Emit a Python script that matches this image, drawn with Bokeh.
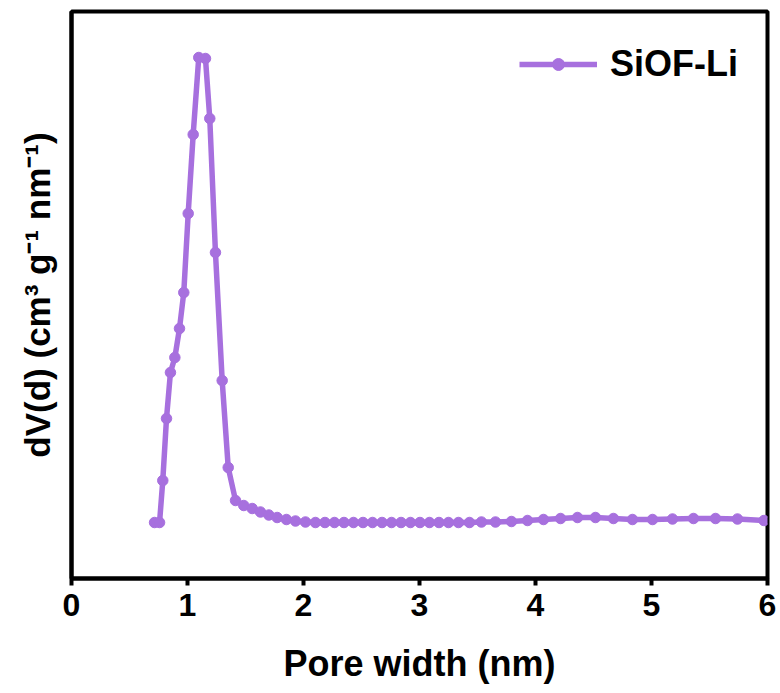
from bokeh.plotting import figure
from bokeh.models import Range1d, FixedTicker, Legend, LegendItem
from bokeh.embed import file_html
from bokeh.resources import INLINE

# Pore width (nm)
pore_width = [0.716, 0.759, 0.787, 0.819, 0.853, 0.891, 0.931, 0.968, 1.006, 1.049,
              1.097, 1.155, 1.192, 1.241, 1.299, 1.351, 1.414, 1.485, 1.558, 1.629,
              1.701, 1.773, 1.853, 1.931, 2.017, 2.103, 2.185, 2.267, 2.349, 2.431,
              2.513, 2.595, 2.677, 2.759, 2.841, 2.922, 3.004, 3.086, 3.168, 3.250,
              3.336, 3.431, 3.534, 3.655, 3.793, 3.931, 4.069, 4.216, 4.362, 4.517,
              4.672, 4.836, 5.009, 5.181, 5.362, 5.552, 5.741, 5.970]
# dV(d) (arbitrary units)
dv = [0.112, 0.112, 0.196, 0.320, 0.412, 0.442, 0.500, 0.572, 0.730, 0.888,
      1.042, 1.040, 0.920, 0.652, 0.396, 0.222, 0.156, 0.146, 0.140, 0.133,
      0.127, 0.122, 0.118, 0.115, 0.113, 0.112, 0.112, 0.112, 0.112, 0.112,
      0.112, 0.112, 0.112, 0.112, 0.112, 0.112, 0.112, 0.112, 0.112, 0.112,
      0.112, 0.112, 0.113, 0.113, 0.114, 0.116, 0.118, 0.120, 0.122, 0.122,
      0.120, 0.118, 0.118, 0.119, 0.120, 0.120, 0.119, 0.116]
x_ticks = [0, 1, 2, 3, 4, 5, 6]
series_name = "SiOF-Li"

COLOR = "#A770DE"
FONT = "Liberation Sans"

p = figure(width=780, height=693, output_backend="svg", toolbar_location=None,
           x_range=Range1d(0, 6), y_range=Range1d(0, 1.134),
           min_border_left=71, min_border_right=13, min_border_top=11,
           min_border_bottom=115)
p.background_fill_color = "white"
p.border_fill_color = "white"
p.outline_line_color = "black"
p.outline_line_width = 4
p.xgrid.visible = False
p.ygrid.visible = False

line_r = p.line(pore_width, dv, line_color=COLOR, line_width=5.5)
pts_r = p.scatter(pore_width, dv, size=10.5, fill_color=COLOR, line_color=COLOR)

xa = p.xaxis[0]
xa.ticker = FixedTicker(ticks=x_ticks)
xa.minor_tick_line_color = None
xa.axis_line_width = 4
xa.major_tick_line_width = 4
xa.major_tick_out = 7
xa.major_tick_in = 0
xa.major_label_text_font = FONT
xa.major_label_text_font_style = "bold"
xa.major_label_text_font_size = "32px"
xa.major_label_text_color = "black"
xa.major_label_standoff = 8
xa.axis_label = "Pore width (nm)"
xa.axis_label_text_font = FONT
xa.axis_label_text_font_style = "bold"
xa.axis_label_text_font_size = "36px"
xa.axis_label_text_color = "black"
xa.axis_label_standoff = 24

ya = p.yaxis[0]
ya.ticker = FixedTicker(ticks=[])
ya.minor_tick_line_color = None
ya.major_tick_line_color = None
ya.axis_line_width = 4
ya.axis_label = "dV(d) (cm³ g⁻¹ nm⁻¹)"
ya.axis_label_text_font = FONT
ya.axis_label_text_font_style = "bold"
ya.axis_label_text_font_size = "35px"
ya.axis_label_text_color = "black"
ya.axis_label_standoff = 15

legend = Legend(items=[LegendItem(label=series_name, renderers=[line_r, pts_r])],
                location=(448, 493))
legend.border_line_color = None
legend.background_fill_alpha = 0
legend.label_text_font = FONT
legend.label_text_font_style = "bold"
legend.label_text_font_size = "36px"
legend.label_text_color = "black"
legend.glyph_width = 78
legend.glyph_height = 30
legend.label_standoff = 13
legend.margin = 0
legend.padding = 4
p.add_layout(legend)

open("out.html", "w").write(file_html(p, INLINE))
